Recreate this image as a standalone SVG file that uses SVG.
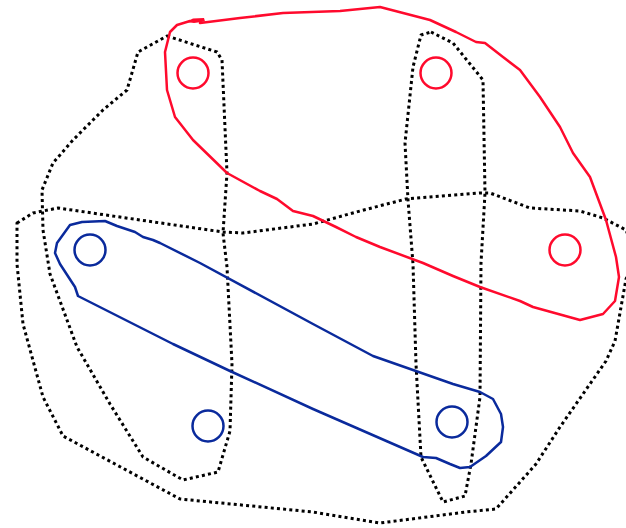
<svg xmlns="http://www.w3.org/2000/svg" width="626" height="528" viewBox="0 0 626 528">
<style>
.dot{fill:none;stroke:#000;stroke-width:3;stroke-dasharray:3 3.2;stroke-linejoin:round}
.red{fill:none;stroke:#ff0a2d;stroke-width:2.5;stroke-linejoin:round;stroke-linecap:round}
.blue{fill:none;stroke:#0a2a9c;stroke-width:2.5;stroke-linejoin:round;stroke-linecap:round}
</style>
<rect width="626" height="528" fill="#fff"/>
<g id="connectors">
<path id="outer" class="dot" d="M17,223 L33,213 L58,208 L140,220 L223,232 L243,233 L313,224 L360,211 L406,199 L480,193 L490,193 L530,208 L580,211 L603,218 L626,230 L636,255 L626,279 L615,341 L606,361 L560,427 L536,464 L496,509 L466,512 L380,523 L313,512 L180,499 L63,436 L43,397 L23,324 L17,264 Z"/>
<path id="leftband" class="dot" d="M167,36 L217,52 L222,60 L227,173 L223,233 L227,267 L232,364 L230,431 L218,472 L183,480 L143,457 L110,404 L77,347 L50,274 L43,230 L42,190 L53,163 L73,140 L103,110 L127,90 L138,52 Z"/>
<path id="rightband" class="dot" d="M431,32 L453,43 L483,80 L485,193 L481,263 L480,397 L471,464 L465,496 L443,502 L421,457 L416,364 L413,264 L408,200 L405,143 L413,67 L421,35 Z"/>
</g>
<g id="redset">
<path class="red" d="M190,21 L177,25 L170,32 L165,52 L167,90 L175,117 L193,140 L227,173 L260,191 L277,199 L293,211 L313,216 L336,227 L356,237 L380,247 L423,263 L453,276 L480,287 L520,301 L533,307 L580,320 L603,314 L615,301 L619,277 L616,257 L606,220 L590,177 L573,153 L560,127 L540,97 L520,70 L503,57 L485,43 L476,42 L456,32 L430,20 L380,7 L340,11 L283,13 L240,18 L200,23"/>
<path d="M186,22 L193,18.5 L204,18 L205,21.5 L194,23 Z" fill="#ff0a2d"/>
</g>
<g id="blueset">
<path class="blue" d="M57,243 L70,225 L82,222 L105,221 L117,226 L135,232 L143,237 L153,240 L160,243 L200,263 L313,324 L373,356 L453,384 L480,392 L493,399 L501,414 L503,427 L501,442 L486,456 L470,467 L460,468 L450,464 L436,458 L423,457 L313,409 L230,371 L173,344 L78,296 L75,287 L60,264 L55,253 Z"/>
</g>
<g id="r1"><circle cx="193" cy="73" r="15.5" class="red"/></g>
<g id="r2"><circle cx="436" cy="73" r="15.5" class="red"/></g>
<g id="r3"><circle cx="565" cy="250" r="15.5" class="red"/></g>
<g id="b1"><circle cx="90" cy="250" r="15.5" class="blue"/></g>
<g id="b2"><circle cx="208" cy="426" r="15.5" class="blue"/></g>
<g id="b3"><circle cx="452" cy="422" r="15.5" class="blue"/></g>
</svg>
